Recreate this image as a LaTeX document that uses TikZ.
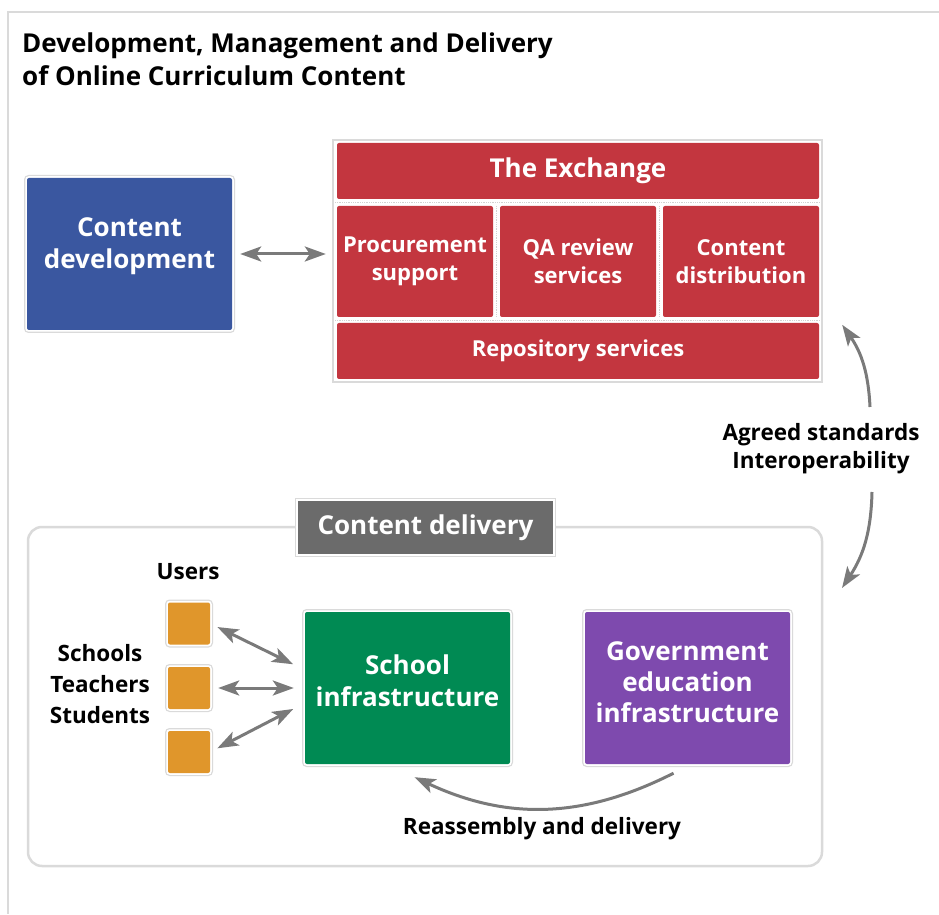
\documentclass[tikz,border=0pt]{standalone}
\usepackage{fontspec}
\setmainfont{Open Sans}
\usetikzlibrary{arrows.meta}
\definecolor{devblue}{RGB}{58,87,160}
\definecolor{exred}{RGB}{195,54,63}
\definecolor{schoolgreen}{RGB}{0,138,83}
\definecolor{govpurple}{RGB}{126,74,174}
\definecolor{userorange}{RGB}{224,150,43}
\definecolor{labelgray}{RGB}{107,107,107}
\definecolor{arrowgray}{RGB}{122,122,122}
\definecolor{framegray}{RGB}{218,218,218}
\def\fsize#1#2{\fontsize{#1}{#2}\selectfont}
\begin{document}
\begin{tikzpicture}[x=1pt,y=1pt]
    \tikzset{
        framed/.style={preaction={draw=framegray, line width=6pt}, preaction={draw=white, line width=3.5pt}},
        bigbox/.style={framed, fill=#1, rounded corners=2pt, minimum width=205pt, minimum height=152pt},
        boxtext/.style={text=white, align=center, inner sep=0pt, font=\bfseries\fsize{26}{32}},
        exbox/.style={fill=exred, rounded corners=2pt, text=white, align=center, inner sep=0pt},
        userbox/.style={framed, fill=userorange, rounded corners=2pt, minimum size=42pt},
        caption/.style={align=center, inner sep=0pt, font=\bfseries\fsize{22.5}{31}},
        gap/.style={draw=gray!35, densely dotted, line width=0.8pt},
        >={Stealth[length=21pt,width=15pt,inset=5pt]},
        link/.style={draw=arrowgray, line width=3pt, <->},
        tiparrow/.style={draw=arrowgray, line width=3pt, ->},
    }
    \useasboundingbox (0,0) rectangle (939,914);
    \draw[framegray, line width=1.5pt] (939,902) -- (8,902) -- (8,0);
    \node[anchor=west, align=left, inner sep=0pt, font=\bfseries\fsize{26}{33}] (title) at (22,854.5)
        {Development, Management and Delivery\\of Online Curriculum Content};

    % content development
    \node[bigbox=devblue] (dev) at (129.5,660) {};
    \node[boxtext] (devtext) at ([yshift=8pt]dev.center) {Content\\development};

    % the exchange
    \draw[framegray, line width=1.5pt] (333,774) rectangle (822,532);
    \node[exbox, minimum width=482pt, minimum height=56pt, font=\bfseries\fsize{26}{32}] (exch) at (578,743) {The Exchange};
    \node[exbox, minimum width=156pt, minimum height=111pt, font=\bfseries\fsize{22}{28}] (proc) at (415,652.5) {Procurement\\support};
    \node[exbox, minimum width=156pt, minimum height=111pt, font=\bfseries\fsize{22}{28}] (qa) at (578,652.5) {QA review\\services};
    \node[exbox, minimum width=156pt, minimum height=111pt, font=\bfseries\fsize{22}{28}] (dist) at (741,652.5) {Content\\distribution};
    \node[exbox, minimum width=482pt, minimum height=56pt, font=\bfseries\fsize{22}{28}] (repo) at (578,563) {Repository services};
    \draw[gap] (335,711.5) -- (820,711.5);
    \draw[gap] (335,594) -- (820,594);
    \draw[gap] (496.5,708) -- (496.5,597);
    \draw[gap] (659.5,708) -- (659.5,597);

    \draw[link, shorten <=8pt, shorten >=11pt] (dev.east) -- (dev.east -| proc.west);

    % standards
    \node[caption, font=\bfseries\fsize{22.5}{28}] (std) at (821,465) {Agreed standards\\Interoperability};
    \coordinate (stdtop) at (870,507);
    \coordinate (stdbot) at (872,422);
    \coordinate (delivtop) at (842,326);
    \draw[tiparrow] (stdtop) to[bend right=16] ([xshift=23pt,yshift=-2pt]repo.north east);
    \draw[tiparrow] (stdbot) to[bend left=16] (delivtop);

    % content delivery
    \draw[framegray, line width=2.5pt, rounded corners=14pt] (28,387) rectangle (822,48);
    \node[framed, fill=labelgray, text=white, inner sep=0pt, minimum width=255pt, minimum height=53pt,
        font=\bfseries\fsize{26}{32}] (deliv) at (425.5,386.5) {Content delivery};

    \node[caption] (users) at (188,342) {Users};
    \foreach \i/\y in {1/290.5, 2/226, 3/162}
        \node[userbox] (u\i) at (189,\y) {};
    \node[caption] (who) at (100,230) {Schools\\Teachers\\Students};

    \node[bigbox=schoolgreen] (school) at (407.5,226) {};
    \node[boxtext] (schooltext) at ([yshift=7pt]school.center) {School\\infrastructure};
    \node[bigbox=govpurple] (gov) at (687.5,226) {};
    \node[boxtext, font=\bfseries\fsize{26}{31}] (govtext) at ([yshift=6pt]gov.center) {Government\\education\\infrastructure};

    \draw[link, shorten <=8pt, shorten >=13pt] (u1.east) -- ([yshift=18pt]school.west);
    \draw[link, shorten <=8pt, shorten >=11pt] (u2.east) -- (school.west);
    \draw[link, shorten <=8pt, shorten >=13pt] (u3.east) -- ([yshift=-15pt]school.west);

    \draw[tiparrow] ([xshift=-14pt,yshift=-9pt]gov.south) to[bend left=26] ([xshift=7pt,yshift=-13pt]school.south);
    \node[caption] (reas) at (542,85) {Reassembly and delivery};
\end{tikzpicture}
\end{document}
